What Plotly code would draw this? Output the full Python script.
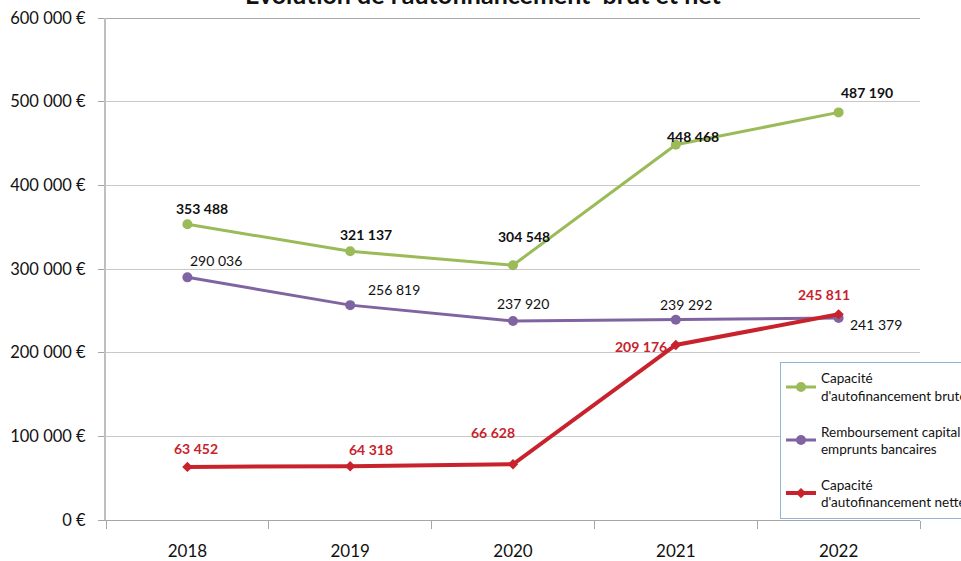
import plotly.graph_objects as go

years = ["2018", "2019", "2020", "2021", "2022"]
caf_brute = [353488, 321137, 304548, 448468, 487190]
remb_capital = [290036, 256819, 237920, 239292, 241379]
caf_nette = [63452, 64318, 66628, 209176, 245811]

y_ticks = [0, 100000, 200000, 300000, 400000, 500000, 600000]
y_tick_labels = ["0 €", "100 000 €", "200 000 €", "300 000 €", "400 000 €", "500 000 €", "600 000 €"]

names = ["Capacité<br>d'autofinancement brute",
         "Remboursement capital<br>emprunts bancaires",
         "Capacité<br>d'autofinancement nette"]

GREEN = "#9bbb59"
PURPLE = "#8064a2"
RED = "#c8232c"
FONT = "Lato, Noto Sans, sans-serif"

def fmt(v):
    return f"{v:,}".replace(",", " ")

fig = go.Figure()
fig.add_trace(go.Scatter(x=years, y=caf_brute, mode="lines+markers", name=names[0],
                         legendgroup="a",
                         line=dict(color=GREEN, width=3),
                         marker=dict(symbol="circle", size=10, color=GREEN)))
fig.add_trace(go.Scatter(x=years, y=remb_capital, mode="lines+markers", name=names[1],
                         legendgroup="b",
                         line=dict(color=PURPLE, width=3),
                         marker=dict(symbol="circle", size=10, color=PURPLE)))
fig.add_trace(go.Scatter(x=years, y=caf_nette, mode="lines+markers", name=names[2],
                         legendgroup="c",
                         line=dict(color=RED, width=4),
                         marker=dict(symbol="diamond", size=8, color=RED)))

# label offsets (style)
off_brute = [(15, 16), (16, 17), (11, 29), (17, 8), (28, 20)]
off_remb = [(29, 17), (44, 16), (10, 17), (10, 15), (37, -6)]
off_nette = [(9, 18), (21, 17), (-20, 32), (-35, -2), (-15, 20)]

annotations = []
for i, (v, (dx, dy)) in enumerate(zip(caf_brute, off_brute)):
    annotations.append(dict(x=i, y=v, text=f"<b>{fmt(v)}</b>", showarrow=False,
                            xshift=dx, yshift=dy, font=dict(family=FONT, size=14, color="#111")))
for i, (v, (dx, dy)) in enumerate(zip(remb_capital, off_remb)):
    annotations.append(dict(x=i, y=v, text=fmt(v), showarrow=False,
                            xshift=dx, yshift=dy, font=dict(family=FONT, size=14, color="#111")))
for i, (v, (dx, dy)) in enumerate(zip(caf_nette, off_nette)):
    annotations.append(dict(x=i, y=v, text=f"<b>{fmt(v)}</b>", showarrow=False,
                            xshift=dx, yshift=dy, font=dict(family=FONT, size=14, color=RED)))

annotations.append(dict(xref="paper", yref="paper", x=0.463, y=1, yanchor="middle",
                        yshift=24, showarrow=False,
                        text="<b>Évolution de l'autofinancement  brut et net</b>",
                        font=dict(family=FONT, size=25, color="#111")))

fig.update_layout(
    width=961, height=561, autosize=False,
    margin=dict(l=106, r=41, t=18, b=41, autoexpand=False),
    paper_bgcolor="white", plot_bgcolor="white",
    font=dict(family=FONT, size=14, color="#222"),
    annotations=annotations,
    showlegend=True,
    legend=dict(x=0.828, y=0.315, xanchor="left", yanchor="top",
                bordercolor="#95b3d7", borderwidth=1, bgcolor="white",
                font=dict(family=FONT, size=13.5, color="#111"),
                tracegroupgap=15, itemwidth=30),
    xaxis=dict(type="category", showgrid=False, showline=True, linecolor="#a6a6a6", linewidth=1,
               ticks="outside", tickson="boundaries", ticklen=8, tickcolor="#a6a6a6",
               tickfont=dict(family=FONT, size=17, color="#111"), ticklabelstandoff=16,
               range=[-0.5, 4.5], automargin=False),
    yaxis=dict(range=[0, 600000], tickvals=y_ticks, ticktext=y_tick_labels,
               showgrid=True, gridcolor="#c8c8c8", gridwidth=1,
               showline=True, linecolor="#bfbfbf", linewidth=2,
               ticks="outside", ticklen=6, tickcolor="#a6a6a6",
               tickfont=dict(family=FONT, size=16.5, color="#111"), ticklabelstandoff=9,
               zeroline=False, automargin=False),
)
fig.add_shape(type="line", xref="paper", yref="y", x0=0, x1=1, y0=600000, y1=600000,
              line=dict(color="#8c8c8c", width=1.5))

post = (
    "document.documentElement.style.overflow='hidden';"
    "document.body.style.margin='0';document.body.style.overflow='hidden';"
)
fig.write_html("out.html",
               config={"responsive": False, "displayModeBar": False},
               post_script=post)
